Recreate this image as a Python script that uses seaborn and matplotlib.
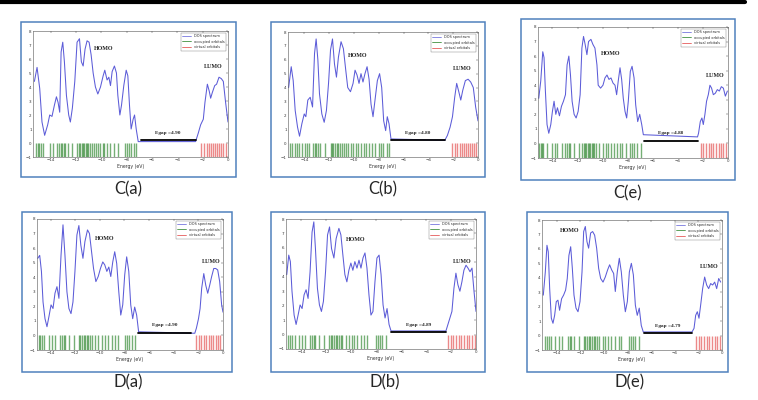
import numpy as np
import pandas as pd
import matplotlib
matplotlib.use("Agg")
import matplotlib.pyplot as plt
import seaborn as sns
from matplotlib.lines import Line2D
from matplotlib.patches import Rectangle

sns.set_theme(style="white")
plt.rcParams.update({
    "font.family": ["DejaVu Sans"],
    "xtick.direction": "in",
    "ytick.direction": "in",
})

# ================================
# data
# ================================
panel_names = ["C(a)", "C(b)", "C(e)", "D(a)", "D(b)", "D(e)"]
egap_labels = ["Egap =4.90", "Egap =4.80", "Egap =4.88", "Egap =4.90", "Egap =4.89", "Egap =4.79"]
legend_labels = ["DOS spectrum", "occupied orbitals", "virtual orbitals"]
y_ticks = [-1, 0, 1, 2, 3, 4, 5, 6, 7, 8]
x_ticks = [-14, -12, -10, -8, -6, -4, -2, 0]

# DOS curves (energy in eV, density)
ca_energy = [-15.29, -15.08, -14.87, -14.69, -14.48, -14.24, -14.08, -13.90, -13.71, -13.55, -13.42, -13.29,
             -13.18, -13.05, -12.92, -12.76, -12.58, -12.45, -12.29, -12.10, -11.92, -11.73, -11.58, -11.44,
             -11.29, -11.13, -10.97, -10.81, -10.65, -10.47, -10.28, -10.07, -9.86, -9.73, -9.55, -9.41,
             -9.28, -9.15, -8.97, -8.81, -8.70, -8.54, -8.41, -8.23, -8.04, -7.91, -7.78, -7.65, -7.49,
             -7.38, -7.25, -7.09, -2.56, -2.35, -2.16, -1.95, -1.82, -1.63, -1.48, -1.37, -1.24, -1.05,
             -0.90, -0.71, -0.53, -0.37, -0.19, 0.0]
ca_dos = [4.4, 5.4, 3.9, 1.5, 0.55, 1.3, 2.0, 1.9, 2.7, 3.3, 2.9, 2.2,
          6.5, 7.2, 5.8, 3.4, 2.0, 1.5, 2.5, 4.4, 7.2, 7.45, 5.8, 5.5,
          6.7, 7.3, 7.2, 6.3, 5.0, 4.0, 3.5, 4.0, 4.8, 5.2, 4.5, 4.7,
          4.1, 5.1, 5.5, 5.0, 3.4, 2.0, 2.7, 4.1, 5.2, 4.8, 2.7, 1.0, 1.7,
          2.0, 1.0, 0.1, 0.1, 0.7, 1.3, 1.7, 2.9, 4.2, 3.7, 3.2, 3.6, 4.1,
          4.2, 4.7, 4.6, 4.4, 2.9, 1.5]

cb_energy = [-15.28, -15.07, -14.91, -14.75, -14.56, -14.40, -14.21, -14.02, -13.89, -13.73, -13.54, -13.35,
             -13.19, -13.06, -12.92, -12.79, -12.60, -12.41, -12.23, -12.06, -11.90, -11.74, -11.58, -11.42,
             -11.26, -11.05, -10.86, -10.67, -10.51, -10.29, -10.08, -9.92, -9.76, -9.60, -9.44, -9.28,
             -9.12, -8.95, -8.79, -8.63, -8.47, -8.31, -8.12, -7.94, -7.77, -7.61, -7.45, -7.32, -7.18,
             -7.02, -2.68, -2.47, -2.25, -2.06, -1.88, -1.72, -1.55, -1.39, -1.23, -1.02, -0.80, -0.59,
             -0.38, -0.19, 0.0]
cb_dos = [4.0, 5.5, 4.5, 2.35, 1.15, 0.5, 1.4, 2.1, 1.9, 3.1, 3.3, 2.6,
          6.45, 7.5, 6.0, 3.55, 2.1, 1.5, 2.35, 4.3, 6.7, 7.5, 5.7, 4.75,
          6.2, 7.3, 6.8, 5.25, 4.0, 3.7, 4.3, 5.25, 4.9, 4.3, 5.0, 4.4,
          5.0, 5.5, 4.6, 2.8, 1.9, 3.1, 4.5, 5.0, 4.0, 1.6, 0.9, 1.9, 1.4,
          0.3, 0.2, 0.55, 1.15, 1.9, 3.3, 4.3, 3.7, 3.1, 3.8, 4.5, 4.6, 4.4,
          4.0, 2.6, 1.6]

ce_energy = [-15.09, -14.93, -14.77, -14.67, -14.56, -14.43, -14.29, -14.13, -14.00, -13.87, -13.73, -13.60,
             -13.44, -13.28, -13.12, -12.96, -12.83, -12.69, -12.56, -12.43, -12.27, -12.11, -11.95, -11.79,
             -11.65, -11.52, -11.39, -11.25, -11.12, -10.93, -10.77, -10.61, -10.45, -10.35, -10.16, -9.97,
             -9.81, -9.65, -9.49, -9.33, -9.17, -9.01, -8.88, -8.75, -8.61, -8.48, -8.35, -8.21, -8.08,
             -7.95, -7.79, -7.65, -7.49, -7.36, -7.20, -7.04, -6.88, -6.75, -2.43, -2.35, -2.21, -2.08,
             -1.97, -1.84, -1.71, -1.57, -1.44, -1.31, -1.17, -1.01, -0.85, -0.69, -0.53, -0.37, -0.21, -0.05]
ce_dos = [3.1, 4.3, 6.3, 5.9, 3.6, 1.3, 0.7, 1.3, 2.2, 2.9, 2.0, 2.45,
          1.9, 2.55, 2.9, 3.35, 5.4, 6.0, 4.7, 2.9, 2.0, 1.75, 2.2, 3.35,
          6.55, 7.35, 6.8, 6.1, 7.0, 7.15, 6.8, 6.55, 5.4, 4.0, 3.8, 4.0,
          4.5, 4.7, 4.4, 4.5, 4.15, 4.0, 3.35, 4.3, 5.2, 4.4, 3.1, 2.2, 1.75,
          2.9, 4.95, 5.3, 4.5, 2.65, 1.5, 2.0, 1.3, 0.6, 0.45, 0.7, 1.5, 1.75,
          1.3, 2.0, 2.9, 3.35, 4.0, 3.8, 3.35, 3.45, 3.7, 3.6, 3.9, 3.8, 3.25, 3.6]

da_energy = [-15.04, -14.88, -14.74, -14.61, -14.45, -14.29, -14.13, -13.96, -13.80, -13.64, -13.48, -13.32,
             -13.15, -12.99, -12.83, -12.67, -12.51, -12.34, -12.18, -12.02, -11.86, -11.70, -11.54, -11.37,
             -11.21, -11.00, -10.84, -10.67, -10.51, -10.32, -10.13, -9.95, -9.76, -9.60, -9.43, -9.27,
             -9.11, -8.95, -8.79, -8.63, -8.46, -8.30, -8.14, -7.98, -7.82, -7.65, -7.49, -7.33, -7.17,
             -7.01, -6.85, -2.29, -2.16, -1.99, -1.86, -1.73, -1.56, -1.40, -1.24, -1.08, -0.92, -0.75,
             -0.59, -0.43, -0.27, -0.11, 0.0]
da_dos = [5.3, 5.5, 4.4, 2.3, 1.15, 0.6, 1.3, 2.1, 1.85, 2.9, 3.35, 2.55,
          5.5, 7.6, 5.5, 3.0, 1.85, 1.5, 2.3, 4.4, 6.9, 7.55, 6.2, 5.3,
          6.45, 7.25, 7.0, 5.75, 4.6, 3.7, 4.05, 4.6, 5.05, 4.85, 4.4, 4.7,
          4.05, 5.05, 5.75, 4.95, 3.0, 1.4, 2.1, 4.15, 5.4, 4.4, 2.1, 1.15, 1.95,
          1.4, 0.25, 0.15, 0.5, 1.15, 1.85, 3.25, 4.25, 3.45, 2.9, 3.45, 4.05, 4.6,
          4.6, 4.5, 3.7, 2.1, 1.6]

db_energy = [-15.17, -15.01, -14.88, -14.75, -14.58, -14.42, -14.26, -14.10, -13.94, -13.78, -13.62, -13.46,
             -13.30, -13.14, -13.00, -12.87, -12.71, -12.55, -12.39, -12.23, -12.06, -11.90, -11.74, -11.58,
             -11.39, -11.21, -10.99, -10.83, -10.67, -10.51, -10.35, -10.19, -10.03, -9.87, -9.71, -9.54,
             -9.38, -9.22, -9.06, -8.90, -8.74, -8.58, -8.42, -8.26, -8.10, -7.94, -7.77, -7.61, -7.45,
             -7.29, -7.13, -6.97, -6.81, -2.41, -2.25, -2.09, -1.93, -1.77, -1.61, -1.45, -1.29, -1.13,
             -0.97, -0.80, -0.64, -0.48, -0.32, -0.16, 0.0]
db_dos = [4.15, 5.5, 5.05, 3.0, 1.35, 0.7, 1.35, 2.05, 1.8, 2.75, 3.1, 2.5,
          4.35, 7.1, 7.8, 5.95, 3.2, 2.05, 1.6, 2.3, 4.35, 6.9, 7.45, 5.95,
          5.3, 6.65, 7.35, 6.9, 5.5, 4.15, 3.65, 4.45, 4.95, 4.45, 5.05, 4.6,
          5.15, 4.6, 5.3, 5.65, 4.6, 2.75, 1.35, 1.6, 3.65, 5.3, 5.5, 4.15, 2.05,
          1.15, 1.8, 0.7, 0.25, 0.25, 0.7, 1.15, 1.6, 3.2, 4.25, 3.45, 3.0, 3.65,
          4.45, 4.8, 4.6, 4.35, 4.6, 3.0, 1.6]

de_energy = [-15.14, -14.97, -14.83, -14.72, -14.60, -14.46, -14.32, -14.18, -14.04, -13.90, -13.76, -13.59,
             -13.42, -13.25, -13.11, -12.97, -12.82, -12.68, -12.54, -12.37, -12.20, -12.03, -11.86, -11.72,
             -11.58, -11.44, -11.30, -11.13, -10.96, -10.79, -10.62, -10.45, -10.28, -10.08, -9.89, -9.69,
             -9.52, -9.35, -9.18, -9.04, -8.87, -8.70, -8.53, -8.36, -8.19, -8.02, -7.85, -7.68, -7.51,
             -7.34, -7.18, -7.01, -6.84, -6.67, -2.54, -2.37, -2.23, -2.09, -1.95, -1.81, -1.64, -1.47,
             -1.30, -1.13, -0.96, -0.79, -0.62, -0.45, -0.28, -0.11]
de_dos = [2.8, 4.4, 6.25, 5.8, 3.25, 1.2, 0.85, 1.4, 2.35, 2.45, 1.75, 2.55,
          2.8, 3.15, 3.95, 5.55, 6.15, 4.65, 2.8, 1.9, 1.65, 2.35, 4.4, 7.2,
          7.55, 6.5, 6.05, 7.1, 7.2, 6.95, 6.05, 4.65, 3.95, 3.7, 4.05, 4.55,
          4.9, 4.55, 4.3, 3.05, 4.4, 5.35, 4.4, 2.8, 1.65, 2.35, 4.4, 5.0, 4.2,
          2.1, 1.4, 1.9, 0.7, 0.25, 0.25, 0.5, 1.4, 1.65, 1.2, 2.1, 3.25, 4.05,
          3.5, 3.25, 3.6, 3.5, 3.7, 3.25, 3.95, 3.7]

# orbital energies (eV): occupied = green sticks, virtual = red sticks
ca_occ = [-15.14, -15.03, -14.93, -14.77, -14.61, -14.08, -13.82, -13.50, -13.34, -13.18, -13.11, -12.97,
          -12.87, -12.66, -12.31, -11.92, -11.79, -11.66, -11.55, -11.44, -11.34, -11.23, -11.13, -11.02,
          -10.92, -10.76, -10.60, -10.44, -10.28, -10.07, -9.91, -9.76, -9.55, -9.28, -8.97, -8.70,
          -8.10, -7.96, -7.81, -7.65, -7.44, -7.23]
ca_virt = [-2.11, -1.90, -1.69, -1.53, -1.37, -1.21, -1.05, -0.90, -0.74, -0.58, -0.37, -0.18]

cb_occ = [-15.15, -15.01, -14.80, -14.61, -14.42, -14.21, -13.99, -13.81, -13.62, -13.35, -13.19, -13.08,
          -12.92, -12.73, -12.38, -11.90, -11.80, -11.66, -11.53, -11.39, -11.26, -11.10, -10.94, -10.78,
          -10.62, -10.46, -10.24, -10.05, -9.87, -9.65, -9.44, -9.22, -9.01, -8.79, -8.53, -8.31,
          -7.99, -7.83, -7.64, -7.37, -7.18]
cb_virt = [-2.09, -1.88, -1.66, -1.47, -1.29, -1.13, -0.97, -0.80, -0.64, -0.48, -0.32, -0.13]

ce_occ = [-15.04, -14.93, -14.83, -14.72, -14.40, -14.03, -13.81, -13.60, -13.23, -12.96, -12.83, -12.69,
          -12.59, -12.27, -11.89, -11.63, -11.52, -11.41, -11.31, -11.20, -11.09, -10.99, -10.88, -10.77,
          -10.67, -10.51, -10.29, -9.97, -9.76, -9.55, -9.33, -9.07, -8.83, -8.64, -8.43, -8.16,
          -7.79, -7.63, -7.47, -7.23, -6.93]
ce_virt = [-2.13, -1.97, -1.76, -1.55, -1.36, -1.17, -0.96, -0.75, -0.56, -0.37, -0.16]

da_occ = [-14.96, -14.82, -14.69, -14.55, -14.15, -13.88, -13.61, -13.21, -13.07, -12.94, -12.80, -12.53,
          -12.13, -11.73, -11.59, -11.46, -11.32, -11.19, -11.05, -10.92, -10.78, -10.65, -10.38, -10.11,
          -9.84, -9.57, -9.30, -9.03, -8.76, -8.49, -7.95, -7.82, -7.65, -7.41, -7.14]
da_virt = [-2.16, -1.94, -1.75, -1.56, -1.35, -1.16, -0.97, -0.78, -0.59, -0.40, -0.22]

db_occ = [-15.07, -14.91, -14.75, -14.53, -14.21, -13.94, -13.67, -13.27, -13.14, -13.00, -12.87, -12.60,
          -12.20, -11.80, -11.66, -11.53, -11.39, -11.26, -11.13, -10.99, -10.86, -10.72, -10.46, -10.19,
          -9.97, -9.76, -9.52, -9.25, -8.98, -8.71, -8.04, -7.88, -7.72, -7.51, -7.18]
db_virt = [-2.25, -2.04, -1.82, -1.61, -1.39, -1.18, -0.97, -0.75, -0.54, -0.32, -0.11]

de_occ = [-15.03, -14.86, -14.69, -14.46, -14.12, -13.84, -13.56, -13.05, -12.91, -12.77, -12.57, -12.15,
          -11.72, -11.58, -11.44, -11.30, -11.16, -11.02, -10.88, -10.73, -10.59, -10.40, -10.11, -9.89,
          -9.66, -9.38, -9.10, -8.76, -8.53, -7.91, -7.74, -7.57, -7.34, -7.01]
de_virt = [-2.20, -1.98, -1.75, -1.53, -1.30, -1.07, -0.85, -0.62, -0.40, -0.17]

# ends of the gap bar (eV)
gap_start = [-6.91, -7.02, -6.69, -6.87, -6.84, -6.64]
gap_end = [-2.56, -2.68, -2.43, -2.56, -2.41, -2.54]

energies = [ca_energy, cb_energy, ce_energy, da_energy, db_energy, de_energy]
dos_values = [ca_dos, cb_dos, ce_dos, da_dos, db_dos, de_dos]
occupied = [ca_occ, cb_occ, ce_occ, da_occ, db_occ, de_occ]
virtual = [ca_virt, cb_virt, ce_virt, da_virt, db_virt, de_virt]

# ================================
# layout (pixels in the 758x400 canvas)
# ================================
W, H = 758, 400
box_px = [(21, 22, 236, 177), (271, 22, 485, 177), (521, 19, 735, 180),
          (22, 212, 232, 372), (271, 212, 485, 372), (527, 212, 728, 372)]
axes_px = [(33, 31, 228, 157), (288, 32, 478, 157), (538, 27, 728, 158),
           (37, 219, 223, 350), (286, 219, 476, 349), (542, 220, 722, 350)]
caption_px = [(128, 189), (383, 189), (628, 193), (128, 382), (385, 382), (630, 382)]
x_left = [-15.4, -15.33, -15.15, -15.1, -15.23, -15.25]
homo_xy = [(-10.6, 6.75), (-10.46, 6.3), (-10.16, 6.15), (-10.38, 6.67), (-10.46, 6.55), (-13.7, 7.3)]
lumo_xy = [(-1.9, 5.43), (-2.0, 5.35), (-1.76, 4.66), (-1.75, 5.1), (-1.88, 5.05), (-1.84, 4.77)]
bar_y = 0.2

dos_color = "#5c5cd8"
occ_color = "#1a7a1a"
virt_color = "#e03a3a"
frame_color = "#4f81bd"


def px_rect(l, t, r, b):
    return [l / W, 1 - b / H, (r - l) / W, (b - t) / H]


fig = plt.figure(figsize=(W / 100, H / 100), dpi=100)

# thick rule across the top
fig.add_artist(Line2D([0, 745 / W], [1 - 2 / H, 1 - 2 / H], color="black", lw=3,
                      transform=fig.transFigure))

for i in range(6):
    l, t, r, b = box_px[i]
    fig.add_artist(Rectangle((l / W, 1 - b / H), (r - l) / W, (b - t) / H,
                             transform=fig.transFigure, fill=False,
                             edgecolor=frame_color, lw=1.1))
    fig.text(caption_px[i][0] / W, 1 - caption_px[i][1] / H, panel_names[i],
             ha="center", va="center", fontsize=12, family=["Lato", "DejaVu Sans"])

    ax = fig.add_axes(px_rect(*axes_px[i]))
    ax.set_facecolor("white")
    df = pd.DataFrame({"Energy (eV)": energies[i], "DOS": dos_values[i]})
    sns.lineplot(data=df, x="Energy (eV)", y="DOS", ax=ax, color=dos_color,
                 lw=0.75, sort=False, estimator=None)
    # orbital sticks in the band between -1 and 0
    sns.rugplot(x=occupied[i], ax=ax, height=1 / 9, color=occ_color, lw=1.5,
                alpha=0.6, expand_margins=False)
    sns.rugplot(x=virtual[i], ax=ax, height=1 / 9, color=virt_color, lw=1.5,
                alpha=0.6, expand_margins=False)

    # gap bar and annotations
    ax.plot([gap_start[i], gap_end[i]], [bar_y, bar_y], color="black", lw=1.3)
    ax.text((gap_start[i] + gap_end[i]) / 2, bar_y + 0.35, egap_labels[i],
            ha="center", va="bottom", fontsize=3.8, fontweight="bold",
            family=["Liberation Serif"])
    ax.text(*homo_xy[i], "HOMO", ha="left", va="center", fontsize=4.3,
            fontweight="bold", family=["Liberation Serif"])
    ax.text(*lumo_xy[i], "LUMO", ha="left", va="center", fontsize=4.3,
            fontweight="bold", family=["Liberation Serif"])

    ax.set_xlim(x_left[i], 0)
    ax.set_ylim(-1, 8)
    ax.set_xticks(x_ticks)
    ax.set_yticks(y_ticks)
    ax.tick_params(labelsize=2.9, length=1.5, width=0.3, pad=1, colors="#333333",
                   top=True, right=True, labeltop=False, labelright=False)
    ax.set_xlabel("Energy (eV)", fontsize=3.3, labelpad=1.5, color="#333333")
    ax.set_ylabel("")
    for sp in ax.spines.values():
        sp.set_linewidth(0.4)
        sp.set_color("#555555")

    handles = [Line2D([0], [0], color=dos_color, lw=0.5),
               Line2D([0], [0], color=occ_color, lw=0.5),
               Line2D([0], [0], color=virt_color, lw=0.5)]
    leg = ax.legend(handles, legend_labels, loc="upper right", fontsize=2.5,
                    frameon=True, fancybox=False, borderaxespad=0.5, borderpad=0.5,
                    handlelength=2.5, labelspacing=0.35, edgecolor="#555555")
    leg.get_frame().set_linewidth(0.3)

fig.savefig("out.png", dpi=100)
